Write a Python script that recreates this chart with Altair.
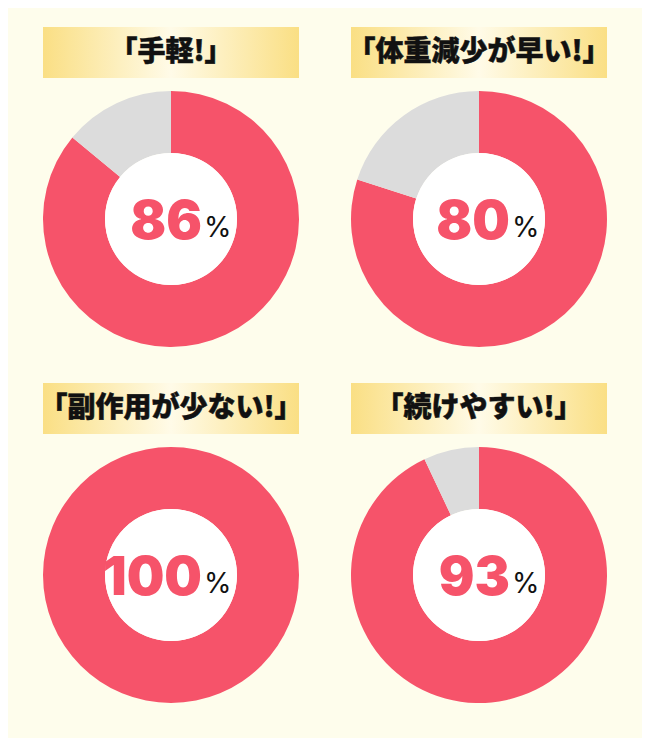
import altair as alt
import pandas as pd

titles = ["「手軽!」", "「体重減少が早い!」", "「副作用が少ない!」", "「続けやすい!」"]
percents = [86, 80, 100, 93]
parts = ["yes", "no"]

RED = "#F6536A"
GREY = "#DCDCDC"
BG = "#FEFDEC"

gold = alt.LinearGradient(
    gradient="linear", x1=0, x2=1, y1=0, y2=0,
    stops=[alt.GradientStop(color="#FADF84", offset=0),
           alt.GradientStop(color="#FFFBE8", offset=0.5),
           alt.GradientStop(color="#FADF84", offset=1)])

W, H = 308, 356
CX, CY = 154, 202


def panel(title, pct):
    arc_df = pd.DataFrame({"part": parts, "v": [pct, 100 - pct], "o": [0, 1]})
    lab_df = pd.DataFrame({"title": [title], "num": [str(pct)], "pc": ["%"]})

    box = alt.Chart(lab_df).mark_rect(fill=gold).encode(
        x=alt.value(26), x2=alt.value(282), y=alt.value(10), y2=alt.value(61))
    ttl = alt.Chart(lab_df).mark_text(
        font="Noto Sans CJK JP", fontWeight=900, fontSize=28, color="#111111",
        stroke="#111111", strokeWidth=0.5,
        align="center", baseline="middle").encode(
        text="title:N", x=alt.value(CX), y=alt.value(36))
    arc = alt.Chart(arc_df).mark_arc(innerRadius=66, outerRadius=128).encode(
        theta=alt.Theta("v:Q", stack=True),
        order=alt.Order("o:Q"),
        color=alt.Color("part:N", scale=alt.Scale(domain=parts, range=[RED, GREY]), legend=None),
        x=alt.value(CX), y=alt.value(CY))
    hole = alt.Chart(lab_df).mark_arc(
        innerRadius=0, outerRadius=66, color="white", theta=0, theta2=6.2832).encode(
        x=alt.value(CX), y=alt.value(CY))
    num = alt.Chart(lab_df).mark_text(
        font="Inter", fontWeight=900, fontSize=53, color=RED,
        align="right", baseline="alphabetic").encode(
        text="num:N", x=alt.value(CX + 31), y=alt.value(CY + 20))
    pc = alt.Chart(lab_df).mark_text(
        font="Inter", fontWeight=400, fontSize=28, color="#111111",
        align="left", baseline="alphabetic").encode(
        text="pc:N", x=alt.value(CX + 33), y=alt.value(CY + 18))
    return alt.layer(box, ttl, arc, hole, num, pc).properties(width=W, height=H)


row1 = alt.hconcat(panel(titles[0], percents[0]), panel(titles[1], percents[1]), spacing=0)
row2 = alt.hconcat(panel(titles[2], percents[2]), panel(titles[3], percents[3]), spacing=0)
chart = alt.vconcat(row1, row2, spacing=0).properties(
    background=BG, padding={"left": 9, "top": 9, "right": 9, "bottom": 9}
).configure_view(stroke=None)

chart.save("out.html", embed_options={"renderer": "svg", "actions": False})
